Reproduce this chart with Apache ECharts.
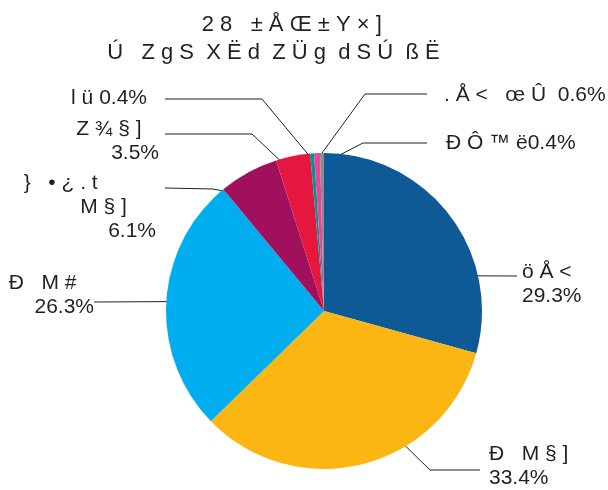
<!DOCTYPE html>
<html lang="en">
	<head>
		<meta charset="UTF-8" />
		<title>Pie</title>
		<script src="https://cdn.jsdelivr.net/npm/echarts@6/dist/echarts.min.js"></script>
		<style>
			html, body { margin: 0; padding: 0; background: #fff; }
			#chart { width: 608px; height: 490px; }
		</style>
	</head>
	<body>
		<div id="chart"></div>
		<script>
			// data
			const titleLines = ['2 8   ± Å Œ ± Y × ]    ', 'Ú   Z g S  X Ë d  Z Ü g  d S Ú  ß Ë          ']
			const categories = ['ö Å <', 'Ð   M § ]', 'Ð   M #', '}   • ¿ . t M § ]', 'Z ¾ § ]', 'l ü', '. Å <   œ Û', 'Ð Ô ™ ë']
			const shares = [29.3, 33.4, 26.3, 6.1, 3.5, 0.4, 0.6, 0.4]
			const colors = ['#0e5a96', '#fbb614', '#00adef', '#a0105c', '#e5173f', '#00968f', '#e8469a', '#8c8c8c']

			// label text templates ({p} = percent)
			const labelText = [
				'ö Å <\n{p}',
				'Ð   M § ]\n{p}',
				'Ð   M #   \n{p}',
				'}   • ¿ . t          \nM § ]     \n{p}',
				'Z ¾ § ]   \n{p}',
				'l ü {p}',
				'. Å <   œ Û  {p}',
				'Ð Ô ™ ë{p}'
			]

			const cx = 324, cy = 311, R = 158
			// label placement: text pos, align, leader anchor (fraction of slice angle, fraction of radius), elbow, end
			const labelPos = [
				{ x: 522, y: 284, align: 'left', a: [0.73, 0.99], elbow: [517, 276], end: [517, 276] },
				{ x: 489, y: 466, align: 'left', a: [0.37, 0.93], elbow: [430, 470], end: [480, 470] },
				{ x: 94, y: 295, align: 'right', a: [0.51, 0.86], elbow: [94, 302], end: [94, 302] },
				{ x: 156, y: 207, align: 'right', a: [0.26, 0.88], elbow: [213, 189], end: [165, 188] },
				{ x: 159, y: 141, align: 'right', a: [0.26, 0.94], elbow: [252, 134], end: [165, 134] },
				{ x: 147, y: 98, align: 'right', a: [0.5, 0.96], elbow: [262, 99], end: [165, 99] },
				{ x: 444, y: 95, align: 'left', a: [0.5, 0.96], elbow: [365, 94], end: [427, 94] },
				{ x: 446, y: 143, align: 'left', a: [0.5, 0.93], elbow: [363, 143], end: [427, 143] }
			]

			const total = shares.reduce((s, v) => s + v, 0)
			const startAngle = []
			let acc = 0
			shares.forEach(v => { startAngle.push(acc / total * 360); acc += v })

			function anchor(i) {
				const lp = labelPos[i]
				const span = shares[i] / total * 360
				const ang = (startAngle[i] + lp.a[0] * span) * Math.PI / 180
				const r = lp.a[1] * R
				return [cx + r * Math.sin(ang), cy - r * Math.cos(ang)]
			}

			const chart = echarts.init(document.getElementById('chart'), null, { renderer: 'canvas' })
			const option = {
				animation: false,
				title: {
					text: titleLines.join('\n'),
					left: 'center',
					top: 6,
					textStyle: { fontFamily: 'Liberation Sans', fontSize: 22, fontWeight: 'normal', color: '#231f20', lineHeight: 28 }
				},
				series: [
					{
						type: 'pie',
						center: [cx, cy],
						radius: R,
						startAngle: 90,
						clockwise: true,
						avoidLabelOverlap: false,
						data: categories.map((name, i) => ({ name, value: shares[i], itemStyle: { color: colors[i] } })),
						label: {
							show: true,
							position: 'outside',
							fontFamily: 'Liberation Sans',
							fontSize: 21,
							lineHeight: 24,
							color: '#231f20',
							formatter: p => labelText[p.dataIndex].replace('{p}', p.value.toFixed(1) + '%')
						},
						labelLine: { show: true, lineStyle: { color: '#231f20', width: 1 } },
						labelLayout: function (params) {
							const i = params.dataIndex
							const lp = labelPos[i]
							const an = anchor(i)
							return {
								x: lp.x,
								y: lp.y,
								align: lp.align,
								verticalAlign: 'middle',
								labelLinePoints: [an, lp.elbow, lp.end]
							}
						},
						emphasis: { disabled: true }
					}
				]
			}
			chart.setOption(option)
		</script>
	</body>
</html>
